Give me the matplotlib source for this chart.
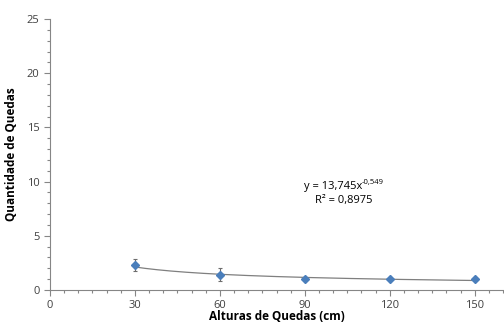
import numpy as np
import matplotlib
matplotlib.use("Agg")
import matplotlib.pyplot as plt
from matplotlib.ticker import MultipleLocator

# data
alturas = [30, 60, 90, 120, 150]
quedas = [2.3, 1.4, 1.05, 1.0, 1.0]
erros = [0.55, 0.6, 0.0, 0.0, 0.0]

# power trendline coefficients shown on the chart
coef_a = 13.745
coef_b = -0.549

plt.rcParams['font.family'] = ['Open Sans', 'DejaVu Sans']

fig = plt.figure(figsize=(5.04, 3.25), dpi=100)
ax = fig.add_axes([50 / 504, 1 - 290 / 325, 453 / 504, 271 / 325])

xs = np.linspace(30, 150, 200)
ax.plot(xs, coef_a * xs ** coef_b, color='#7f7f7f', lw=0.9, zorder=2)
ax.errorbar(alturas, quedas, yerr=erros, fmt='D', color='#4a7ebb', ms=4,
            ecolor='#6d6d6d', elinewidth=0.8, capsize=1.5, capthick=0.8, zorder=3)

ax.set_xlim(0, 160)
ax.set_ylim(0, 25)
ax.xaxis.set_major_locator(MultipleLocator(30))
ax.xaxis.set_minor_locator(MultipleLocator(5))
ax.yaxis.set_major_locator(MultipleLocator(5))
ax.yaxis.set_minor_locator(MultipleLocator(1))

for s in ['top', 'right']:
    ax.spines[s].set_visible(False)
for s in ['left', 'bottom']:
    ax.spines[s].set_color('#868686')
    ax.spines[s].set_linewidth(0.8)

ax.tick_params(which='both', direction='out', color='#868686', width=0.8)
ax.tick_params(which='major', length=4, labelsize=8, labelcolor='#404040')
ax.tick_params(which='minor', length=2.5)

ax.set_xlabel('Alturas de Quedas (cm)', fontsize=8.5, fontweight='bold', labelpad=-1)
ax.set_ylabel('Quantidade de Quedas', fontsize=8.5, fontweight='bold', labelpad=6)

# trendline equation, superscript drawn as a separate smaller text
fig.text(362 / 504, 1 - 186 / 325, 'y = 13,745x', fontsize=8, ha='right', va='center')
fig.text(362 / 504, 1 - 182 / 325, '-0,549', fontsize=5.5, ha='left', va='center')
fig.text(344 / 504, 1 - 200 / 325, 'R² = 0,8975', fontsize=8, ha='center', va='center')

fig.savefig('out.png', dpi=100)
